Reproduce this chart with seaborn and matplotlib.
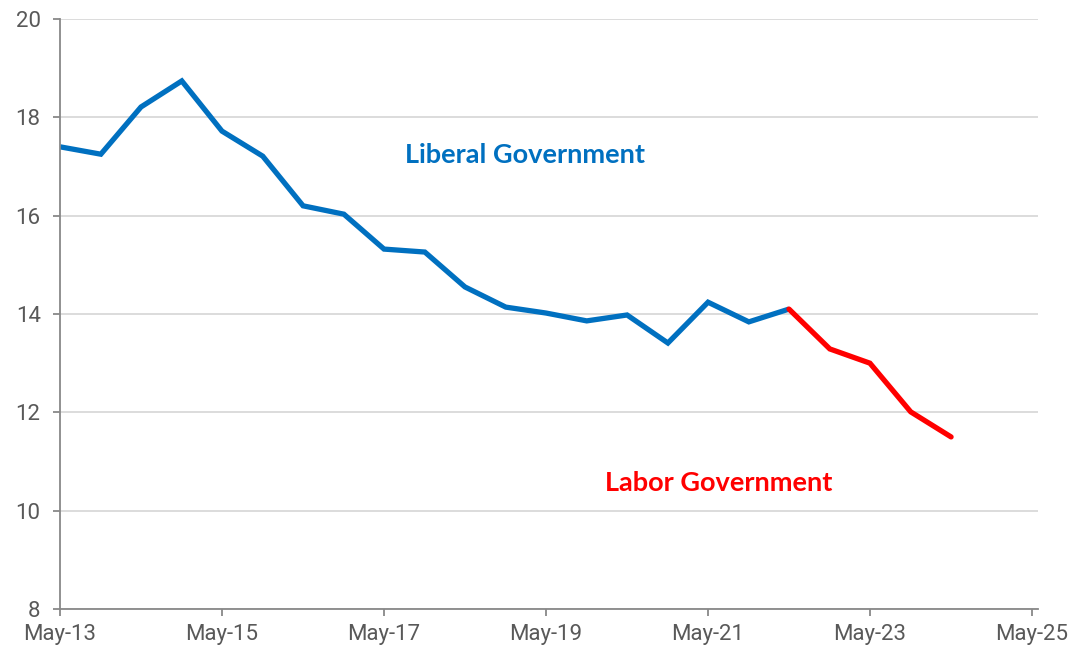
import numpy as np
import pandas as pd
import matplotlib
matplotlib.use("Agg")
import matplotlib.pyplot as plt
import matplotlib.dates as mdates
import seaborn as sns

# Half-yearly observations, May 2013 to May 2024
dates = pd.date_range("2013-05-01", "2024-05-01", freq="6MS")
values = [17.40, 17.25, 18.21, 18.74, 17.72, 17.21, 16.20, 16.03,
          15.32, 15.26, 14.55, 14.14, 14.02, 13.86, 13.98, 13.41,
          14.24, 13.84, 14.10, 13.29, 13.00, 12.01, 11.50]
# index of the first point of the Labor period (May-22); shared with the Liberal series
labor_start = 18

y_ticks = [8, 10, 12, 14, 16, 18, 20]
x_tick_years = [2013, 2015, 2017, 2019, 2021, 2023, 2025]

blue = "#0070C0"
red = "#FF0000"
grey = "#595959"

df = pd.DataFrame({"date": dates, "value": values})
liberal = df.iloc[:labor_start + 1]
labor = df.iloc[labor_start:]

sns.set_style("white")
plt.rcParams["font.family"] = ["Roboto", "DejaVu Sans"]

fig = plt.figure(figsize=(10.76, 6.52), dpi=100)
ax = fig.add_axes([0.0558, 0.0659, 0.9089, 0.905])

sns.lineplot(data=liberal, x="date", y="value", color=blue, linewidth=3.8,
             ax=ax, solid_capstyle="butt", solid_joinstyle="miter")
sns.lineplot(data=labor, x="date", y="value", color=red, linewidth=3.8,
             ax=ax, solid_capstyle="round", solid_joinstyle="miter")

ax.set_ylim(8, 20)
ax.set_yticks(y_ticks)
ax.set_xlim(pd.Timestamp("2013-05-01"), pd.Timestamp("2025-05-28"))
ax.set_xticks([pd.Timestamp(f"{y}-05-01") for y in x_tick_years])
ax.xaxis.set_major_formatter(mdates.DateFormatter("%b-%y"))

ax.grid(axis="y", color="#D9D9D9", linewidth=1.3)
ax.set_axisbelow(True)
for side in ("top", "right"):
    ax.spines[side].set_visible(False)
for side in ("left", "bottom"):
    ax.spines[side].set_color("#888888")
    ax.spines[side].set_linewidth(1.3)

ax.tick_params(axis="both", colors="#888888", labelcolor=grey, labelsize=16,
               length=5, width=1.3, direction="out", bottom=True, left=True)
ax.tick_params(axis="x", pad=6)
ax.tick_params(axis="y", pad=9)
ax.set_xlabel("")
ax.set_ylabel("")

ax.annotate("Liberal Government", xy=(525 / 1076, 1 - 155 / 652), xycoords="figure fraction",
            ha="center", va="center", color=blue, fontsize=19.5, fontweight="bold",
            family=["Lato", "DejaVu Sans"])
ax.annotate("Labor Government", xy=(719 / 1076, 1 - 483 / 652), xycoords="figure fraction",
            ha="center", va="center", color=red, fontsize=19.5, fontweight="bold",
            family=["Lato", "DejaVu Sans"])

fig.savefig("out.png", dpi=100)
